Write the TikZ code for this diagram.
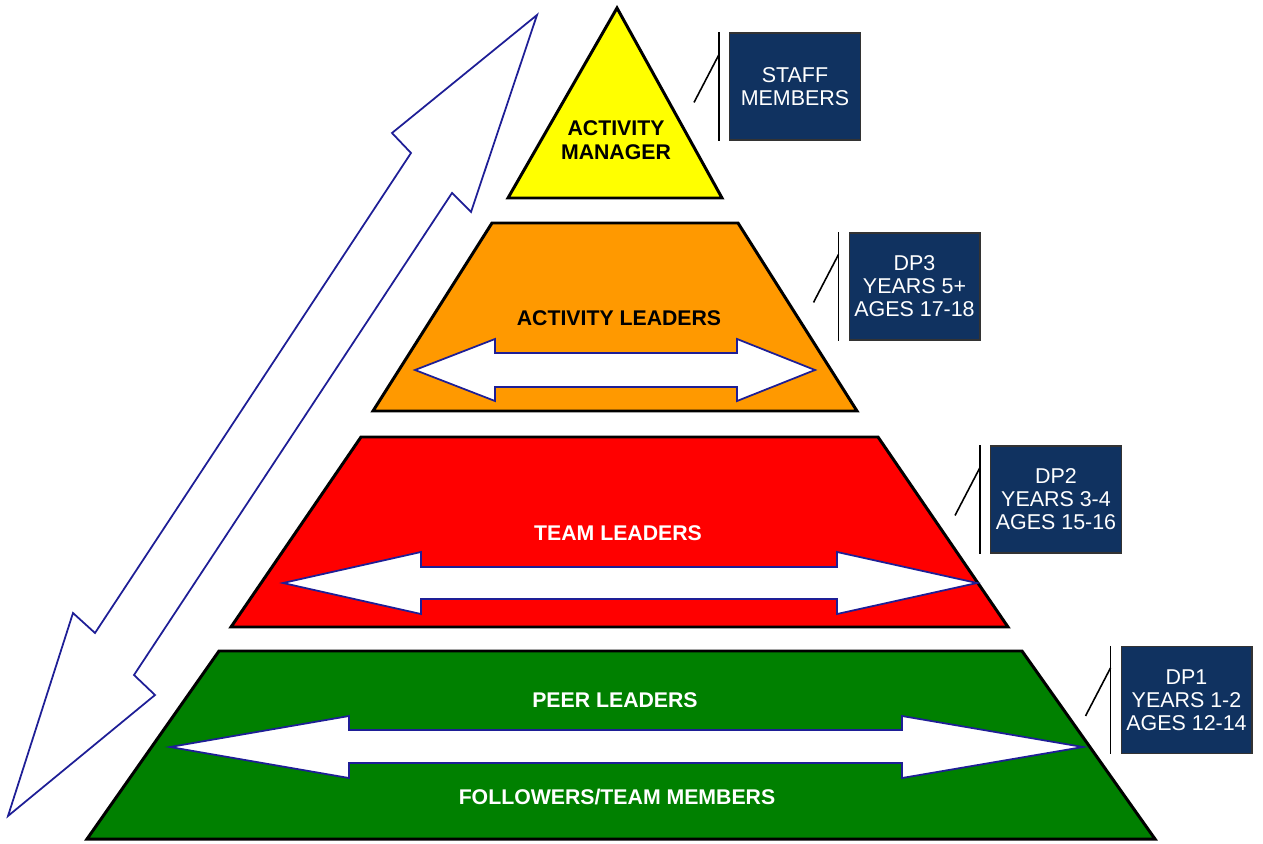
\documentclass[tikz,border=0pt]{standalone}
\usepackage{fontspec}
\setmainfont{Liberation Sans}
\usepackage{xcolor}
\usetikzlibrary{calc,positioning}
\definecolor{mgrYellow}{RGB}{255,255,0}
\definecolor{ldrOrange}{RGB}{255,153,0}
\definecolor{teamRed}{RGB}{255,0,0}
\definecolor{peerGreen}{RGB}{0,128,0}
\definecolor{dpNavy}{RGB}{16,50,96}
\definecolor{arrowBlue}{RGB}{30,30,150}

\begin{document}
\begin{tikzpicture}[x=0.02cm, y=-0.02cm,
  tier/.style={draw=black, line width=1.7pt, line join=miter},
  twoway/.style={draw=arrowBlue, fill=white, line width=1pt, line join=miter},
  tierlabel/.style={font=\fontsize{12.1}{13.9}\selectfont\bfseries, align=center, inner sep=0pt},
  dpbox/.style={draw=black!80, fill=dpNavy, text=white, line width=0.6pt,
    minimum width=2.62cm, minimum height=2.14cm, align=center, inner sep=0pt,
    font=\fontsize{12.2}{13.1}\selectfont},
  bracket/.style={draw=black, line width=0.9pt}]
  \useasboundingbox (0,0) rectangle (1263,844);

  % up/down arrow on the left
  \draw[twoway] (537,15) -- (471,212) -- (452,193) -- (134,675) -- (155,695)
    -- (8,816) -- (73,613) -- (95,633) -- (411,153) -- (392,133) -- cycle;

  % pyramid tiers
  \draw[tier, fill=mgrYellow] (617,8) -- (722,198) -- (508,198) -- cycle;
  \draw[tier, fill=ldrOrange] (492,223) -- (738,223) -- (857,411) -- (373,411) -- cycle;
  \draw[tier, fill=teamRed] (361,437) -- (878,437) -- (1008,627) -- (231,627) -- cycle;
  \draw[tier, fill=peerGreen] (219,651) -- (1022,651) -- (1155,839) -- (87,839) -- cycle;

  % sideways arrows
  \draw[twoway] (415,370) -- (495,339) -- (495,353) -- (737,353) -- (737,339)
    -- (815,370) -- (737,401) -- (737,387) -- (495,387) -- (495,401) -- cycle;
  \draw[twoway] (283,583) -- (421,552) -- (421,567) -- (837,567) -- (837,552)
    -- (977,583) -- (837,614) -- (837,599) -- (421,599) -- (421,614) -- cycle;
  \draw[twoway] (170,747) -- (349,716) -- (349,730) -- (902,730) -- (902,716)
    -- (1083,747) -- (902,778) -- (902,763) -- (349,763) -- (349,778) -- cycle;

  % tier labels
  \node[tierlabel] (manager) at (616,140) {ACTIVITY\\MANAGER};
  \node[tierlabel] (actleaders) at (619,318) {ACTIVITY LEADERS};
  \node[tierlabel, text=white] (teamleaders) at (618,533) {TEAM LEADERS};
  \node[tierlabel, text=white] (peerleaders) at (615,700) {PEER LEADERS};
  \node[tierlabel, text=white] (followers) at (617,797) {FOLLOWERS/TEAM MEMBERS};

  % stage boxes
  \node[dpbox] (staff) at (795,86.5) {STAFF\\MEMBERS};
  \node[dpbox] (dp3) at (914.5,286.5) {DP3\\YEARS 5+\\AGES 17-18};
  \node[dpbox] (dp2) at (1056,499.5) {DP2\\YEARS 3-4\\AGES 15-16};
  \node[dpbox] (dp1) at (1186.5,700) {DP1\\YEARS 1-2\\AGES 12-14};

  % brackets beside the boxes
  \draw[bracket] ([xshift=-0.2cm]staff.north west) -- ([xshift=-0.2cm]staff.south west);
  \draw[bracket] ([shift={(-35,70)}]staff.north west) -- ([shift={(-10,22)}]staff.north west);
  \draw[bracket] ([xshift=-0.2cm]dp3.north west) -- ([xshift=-0.2cm]dp3.south west);
  \draw[bracket] ([shift={(-35,70)}]dp3.north west) -- ([shift={(-10,22)}]dp3.north west);
  \draw[bracket] ([xshift=-0.2cm]dp2.north west) -- ([xshift=-0.2cm]dp2.south west);
  \draw[bracket] ([shift={(-35,70)}]dp2.north west) -- ([shift={(-10,22)}]dp2.north west);
  \draw[bracket] ([xshift=-0.2cm]dp1.north west) -- ([xshift=-0.2cm]dp1.south west);
  \draw[bracket] ([shift={(-35,70)}]dp1.north west) -- ([shift={(-10,22)}]dp1.north west);
\end{tikzpicture}
\end{document}
